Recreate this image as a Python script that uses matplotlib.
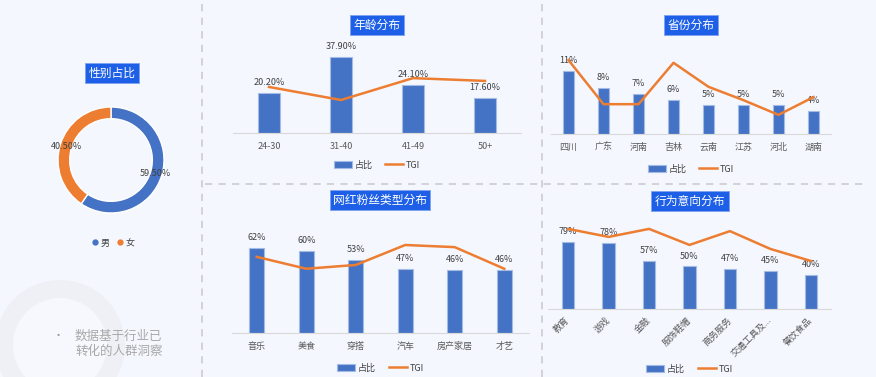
import matplotlib
matplotlib.use("Agg")
import matplotlib.pyplot as plt
from matplotlib.lines import Line2D
from matplotlib.patches import Patch, Circle

plt.rcParams['font.family'] = ['Noto Sans CJK SC', 'DejaVu Sans']

# data
gender_labels = ["男", "女"]
gender_values = [59.5, 40.5]

age_cats = ["24-30", "31-40", "41-49", "50+"]
age_share = [20.2, 37.9, 24.1, 17.6]
age_tgi = [99, 71, 118, 112]

prov_cats = ["四川", "广东", "河南", "吉林", "云南", "江苏", "河北", "湖南"]
prov_share = [11, 8, 7, 6, 5, 5, 5, 4]
prov_tgi = [166, 67, 67, 160, 106, 76, 43, 83]

fan_cats = ["音乐", "美食", "穿搭", "汽车", "房产家居", "才艺"]
fan_share = [62, 60, 53, 47, 46, 46]
fan_tgi = [141, 119, 126, 163, 159, 119]

act_cats = ["教育", "游戏", "金融", "服饰鞋帽", "商务服务", "交通工具及...", "餐饮食品"]
act_share = [79, 78, 57, 50, 47, 45, 40]
act_tgi = [180, 162, 180, 144, 175, 135, 108]

BLUE = "#4472c4"
ORANGE = "#ed7d31"
BG = "#f4f7fe"
TITLE_BG = "#1d5fe6"
W, H = 876, 377

fig = plt.figure(figsize=(W / 100, H / 100), dpi=100)
fig.patch.set_facecolor(BG)


def box(x0, x1, top, base):
    # pixel box -> figure fraction
    return [x0 / W, 1 - base / H, (x1 - x0) / W, (base - top) / H]


def title(text, x, y):
    fig.text(x / W, 1 - y / H, text, color="white", fontsize=8.5,
             ha="center", va="center",
             bbox=dict(boxstyle="square,pad=0.28", fc=TITLE_BG, ec="#7fa2f0", lw=0.6))


def combo(rect, cats, share, tgi, ymax, fmt, legend_y, rotate=False):
    ax = fig.add_axes(rect)
    ax.patch.set_alpha(0)
    x = list(range(len(cats)))
    ax.bar(x, share, width=0.31, color=BLUE, edgecolor="#a3bbe6", linewidth=0.8, zorder=2)
    for i, v in enumerate(share):
        ax.annotate(fmt % v, (i, v), xytext=(0, 7.5), textcoords="offset points",
                    ha="center", va="center", fontsize=6.5, color="#404040", zorder=5)
    ax.set_xlim(-0.5, len(cats) - 0.5)
    ax.set_ylim(0, ymax)
    for s in ["top", "right", "left"]:
        ax.spines[s].set_visible(False)
    ax.spines["bottom"].set_color("#d9d9d9")
    ax.set_yticks([])
    ax.set_xticks(x)
    if rotate:
        ax.set_xticklabels(cats, rotation=45, ha="right", va="center", rotation_mode="anchor")
        ax.tick_params(axis="x", length=0, pad=7, labelsize=6.5, labelcolor="#595959")
    else:
        ax.set_xticklabels(cats)
        ax.tick_params(axis="x", length=0, pad=6.5, labelsize=6.5, labelcolor="#595959")
    ax2 = ax.twinx()
    ax2.plot(x, tgi, color=ORANGE, lw=1.8, zorder=3)
    ax2.set_ylim(0, 200)
    ax2.axis("off")
    handles = [Patch(fc=BLUE, ec="#a3bbe6", lw=0.8), Line2D([], [], color=ORANGE, lw=1.8)]
    cx = rect[0] + rect[2] / 2
    fig.legend(handles, ["占比", "TGI"], loc="center", bbox_to_anchor=(cx, 1 - legend_y / H),
               ncol=2, frameon=False, fontsize=6.5, handlelength=2.0, handleheight=0.9,
               handletextpad=0.3, columnspacing=1.4, labelcolor="#404040")
    return ax


# separators
dash = dict(color="#cfcfd4", lw=1.3, ls=(0, (4, 3.5)), transform=fig.transFigure)
fig.add_artist(Line2D([202 / W, 202 / W], [0, 1], **dash))
fig.add_artist(Line2D([542 / W, 542 / W], [0, 1], **dash))
fig.add_artist(Line2D([205 / W, 866 / W], [1 - 184 / H, 1 - 184 / H], **dash))

# faint background ring bottom-left
bg_ax = fig.add_axes([0, 0, 1, 1], zorder=-1)
bg_ax.set_xlim(0, W)
bg_ax.set_ylim(H, 0)
bg_ax.axis("off")
bg_ax.add_patch(Circle((60, 345), 65, fc="#eef0f5", ec="none"))
bg_ax.add_patch(Circle((60, 345), 47, fc="#f6f8fd", ec="none"))

# gender donut
pax = fig.add_axes(box(111 - 66.25, 111 + 66.25, 160 - 66.25, 160 + 66.25))
wedges, _, autotexts = pax.pie(gender_values, colors=[BLUE, ORANGE], startangle=90,
                               counterclock=False, autopct="%.2f%%", pctdistance=0.88,
                               wedgeprops=dict(width=0.22, edgecolor="white", linewidth=1))
for t in autotexts:
    t.set_fontsize(6.5)
    t.set_color("#404040")
pax.set_xlim(-1.25, 1.25)
pax.set_ylim(-1.25, 1.25)
pax.set_aspect("equal")
gh = [Line2D([], [], marker="o", ls="", color=c, markersize=3.5) for c in [BLUE, ORANGE]]
fig.legend(gh, gender_labels, loc="center", bbox_to_anchor=(113 / W, 1 - 243 / H), ncol=2,
           frameon=False, fontsize=6.5, handlelength=0.8, handletextpad=0.2,
           columnspacing=0.8, labelcolor="#404040")
title("性别占比", 112, 73)

# bar + line charts
combo(box(233, 521, 40, 133), age_cats, age_share, age_tgi, 46.5, "%.2f%%", 165)
title("年龄分布", 377, 25)
combo(box(551, 831, 45, 134), prov_cats, prov_share, prov_tgi, 15.48, "%d%%", 169)
title("省份分布", 691, 25)
combo(box(232, 529, 225, 333), fan_cats, fan_share, fan_tgi, 78.8, "%d%%", 368)
title("网红粉丝类型分布", 380, 200)
combo(box(548, 831, 220, 309), act_cats, act_share, act_tgi, 104.7, "%d%%", 369, rotate=True)
title("行为意向分布", 690, 201)

# note bottom-left
fig.text(58 / W, 1 - 336 / H, "•", color="#9a9a9a", fontsize=8, ha="center", va="center")
fig.text(75 / W, 1 - 344 / H, "数据基于行业已\n转化的人群洞察", color="#a8a8a8", fontsize=9,
         ha="left", va="center", linespacing=1.2)

fig.savefig("out.png", dpi=100, facecolor=BG)
